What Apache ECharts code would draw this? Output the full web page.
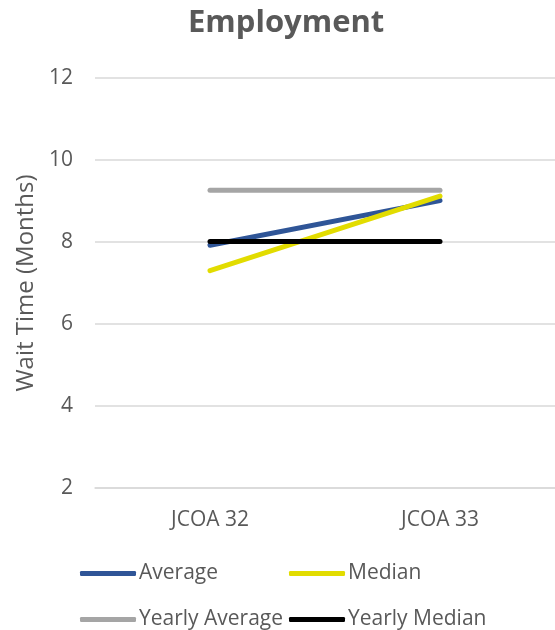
<!DOCTYPE html>
<html><head><meta charset="utf-8">
<script src="https://cdn.jsdelivr.net/npm/echarts@6/dist/echarts.min.js"></script>
<style>html,body{margin:0;padding:0;background:#fff;}#c{width:555px;height:630px;}</style>
</head><body><div id="c"></div>
<script>
var categories = ['JCOA 32', 'JCOA 33'];
var average = [7.92, 9.01];
var median = [7.30, 9.12];
var yearlyAverage = [9.26, 9.26];
var yearlyMedian = [8.01, 8.01];
var yTicks = [2, 4, 6, 8, 10, 12];

var FONT = 'Open Sans';
var TXT = '#595959';
function mk(name, data, color) {
  return { name: name, type: 'line', data: data, symbol: 'none',
    lineStyle: { color: color, width: 5, cap: 'round' }, itemStyle: { color: color } };
}
function lg(name, left, top) {
  return { data: [name], left: left, top: top, icon: 'roundRect', itemWidth: 56, itemHeight: 5,
    itemGap: 0, padding: 0, textStyle: { fontFamily: FONT, fontSize: 21, color: TXT, padding: [0,0,0,-2] } };
}
var chart = echarts.init(document.getElementById('c'));
chart.setOption({
  animation: false,
  title: { text: 'Employment', left: 183, top: 3,
    textStyle: { fontFamily: FONT, fontWeight: 'bold', fontSize: 31, color: TXT } },
  grid: { left: 95, right: -8, top: 78, bottom: 142, containLabel: false },
  legend: [lg('Average', 80, 563), lg('Median', 289, 563), lg('Yearly Average', 80, 609), lg('Yearly Median', 289, 609)],
  xAxis: { type: 'category', data: categories, boundaryGap: true,
    axisLine: { lineStyle: { color: '#D9D9D9', width: 1.5 } }, axisTick: { show: false },
    axisLabel: { fontFamily: FONT, fontSize: 21, color: TXT, margin: 22 } },
  yAxis: { type: 'value', min: yTicks[0], max: yTicks[yTicks.length - 1], interval: 2,
    name: 'Wait Time (Months)', nameLocation: 'middle', nameGap: 56, nameRotate: 90,
    nameTextStyle: { fontFamily: FONT, fontSize: 24, color: TXT },
    axisLine: { show: false }, axisTick: { show: false },
    splitLine: { lineStyle: { color: '#D9D9D9', width: 1.5 } },
    axisLabel: { fontFamily: FONT, fontSize: 21, color: TXT, margin: 22 } },
  series: [
    mk('Average', average, '#2F5597'),
    mk('Median', median, '#E2DC00'),
    mk('Yearly Average', yearlyAverage, '#A5A5A5'),
    mk('Yearly Median', yearlyMedian, '#000000')
  ]
});
</script></body></html>
